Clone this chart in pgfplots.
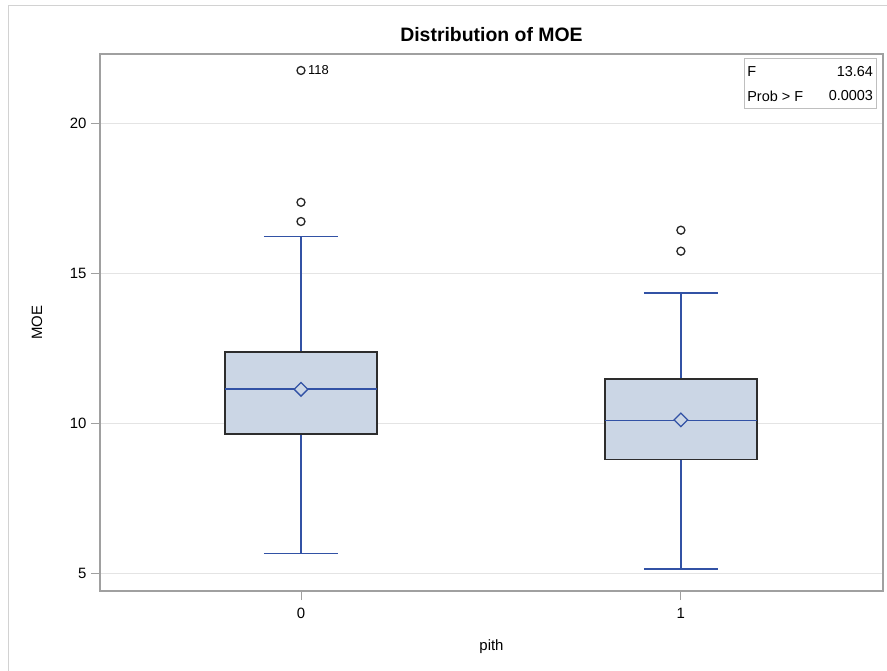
\documentclass[border=0pt]{standalone}
\usepackage{pgfplots}
\pgfplotsset{compat=1.18}
\usepackage{fontspec}
\setmainfont{Liberation Sans}
\definecolor{sasblue}{RGB}{50,82,165}
\definecolor{boxfill}{RGB}{203,214,229}
\definecolor{boxedge}{RGB}{45,45,45}
\definecolor{framegray}{RGB}{160,160,160}
\definecolor{gridgray}{RGB}{228,228,228}
\begin{document}
\begin{tikzpicture}[font=\fontsize{14.5}{16}\selectfont]
\useasboundingbox (-100bp,-80bp) rectangle (787bp,591bp);
\draw[color=gray!35, line width=1bp] (-91bp,-80bp) -- (-91bp,585bp) -- (787bp,585bp);
\begin{axis}[
  at={(0,0)}, anchor=south west,
  scale only axis, width=783bp, height=537bp,
  xmin=-0.529, xmax=1.532, ymin=4.40, ymax=22.32,
  xtick={0,1}, xticklabels={0,1},
  ytick={5,10,15,20},
  xtick pos=left, ytick pos=left,
  tick align=outside,
  major tick length=9bp,
  tick style={color=framegray, line width=0.8bp},
  axis line style={color=framegray, line width=1.2bp},
  ymajorgrids, grid style={color=gridgray, line width=0.9bp},
  /pgf/number format/assume math mode=true,
  ticklabel style={font=\fontsize{15}{17}\selectfont},
  xticklabel style={yshift=-5bp},
  yticklabel style={xshift=-1bp},
  xlabel={pith}, ylabel={MOE},
  xlabel style={at={(axis description cs:0.5,-0.1043)}, anchor=center, font=\fontsize{15}{17}\selectfont},
  ylabel style={at={(axis description cs:-0.0805,0.5)}, anchor=center, font=\fontsize{15}{17}\selectfont},
  clip=false,
]
% whiskers, group 0
\addplot[sasblue, line width=1.3bp] coordinates {(0,12.38) (0,16.22)};
\addplot[sasblue, line width=1.3bp] coordinates {(-0.0975,16.22) (0.0975,16.22)};
\addplot[sasblue, line width=1.3bp] coordinates {(0,9.64) (0,5.66)};
\addplot[sasblue, line width=1.3bp] coordinates {(-0.0975,5.66) (0.0975,5.66)};
% box, group 0
\addplot[draw=boxedge, fill=boxfill, line width=1.3bp] coordinates {(-0.2,9.64) (0.2,9.64) (0.2,12.38) (-0.2,12.38)} -- cycle;
\addplot[sasblue, line width=1.3bp] coordinates {(-0.2,11.14) (0.2,11.14)};
% whiskers, group 1
\addplot[sasblue, line width=1.3bp] coordinates {(1,11.47) (1,14.34)};
\addplot[sasblue, line width=1.3bp] coordinates {(0.9025,14.34) (1.0975,14.34)};
\addplot[sasblue, line width=1.3bp] coordinates {(1,8.78) (1,5.13)};
\addplot[sasblue, line width=1.3bp] coordinates {(0.9025,5.13) (1.0975,5.13)};
% box, group 1
\addplot[draw=boxedge, fill=boxfill, line width=1.3bp] coordinates {(0.8,8.78) (1.2,8.78) (1.2,11.47) (0.8,11.47)} -- cycle;
\addplot[sasblue, line width=1.3bp] coordinates {(0.8,10.08) (1.2,10.08)};
% means
\addplot[only marks, mark=square*, mark size=4.8bp,
  mark options={rotate=45, draw=sasblue, fill=boxfill, line width=1.3bp}]
  coordinates {(0,11.13) (1,10.11)};
% outliers
\addplot[only marks, mark=o, mark size=4bp,
  mark options={draw=black!85, line width=1.3bp}]
  coordinates {(0,17.37) (0,16.73) (0,21.77) (1,16.44) (1,15.74)};
\node[anchor=west, font=\fontsize{13}{15}\selectfont, inner sep=0pt] at (axis cs:0,21.77) [xshift=7bp] {118};
% inset
\draw[color=gray!50, fill=white, line width=0.9bp] (rel axis cs:0.8225,0.9926) rectangle (rel axis cs:0.991,0.8994);
\node[anchor=west, inner sep=0pt] at (rel axis cs:0.8265,0.968) {F};
\node[anchor=east, inner sep=0pt] at (rel axis cs:0.9875,0.968) {13.64};
\node[anchor=west, inner sep=0pt] at (rel axis cs:0.8265,0.9218) {Prob > F};
\node[anchor=east, inner sep=0pt] at (rel axis cs:0.9875,0.9218) {0.0003};
\node[font=\bfseries\fontsize{19.5}{22}\selectfont] at (rel axis cs:0.5,1) [yshift=19bp] {Distribution of MOE};
\end{axis}
\end{tikzpicture}
\end{document}
